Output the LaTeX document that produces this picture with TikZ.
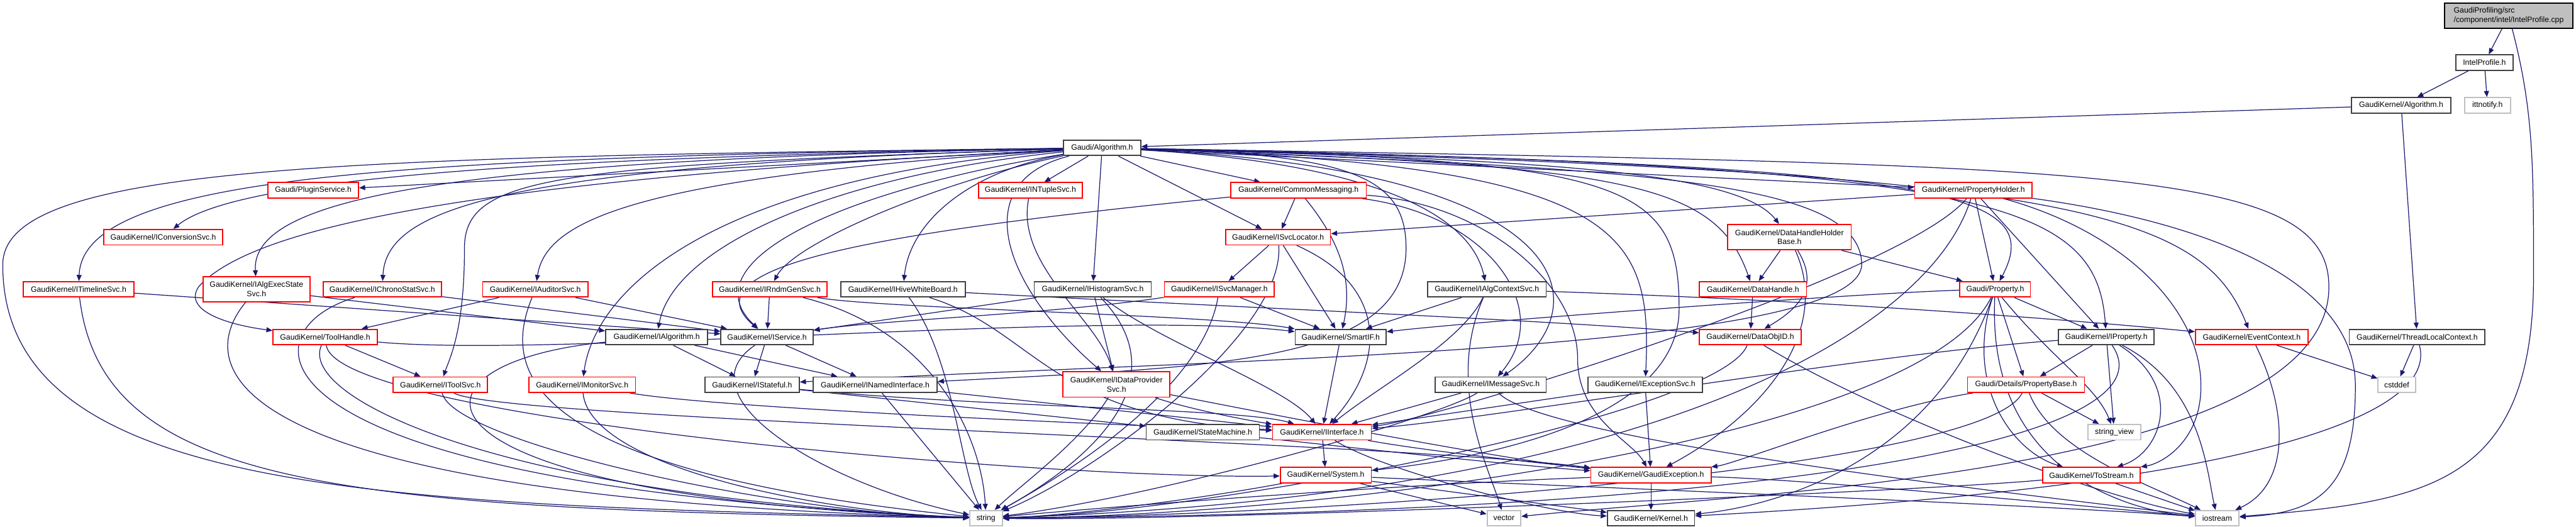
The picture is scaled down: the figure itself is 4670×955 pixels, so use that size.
\documentclass[tikz,border=0pt]{standalone}
\usepackage{fontspec}
\setmainfont{Liberation Sans}
\usetikzlibrary{arrows.meta}
\definecolor{edgec}{HTML}{191970}
\definecolor{redc}{HTML}{FF0000}
\definecolor{blk}{HTML}{404040}
\definecolor{grayb}{HTML}{BFBFBF}
\pgfdeclarelayer{edgelayer}
\pgfsetlayers{edgelayer,main}
\begin{document}
\begin{tikzpicture}[x=1pt,y=1pt,
  nd/.style={draw, rectangle, fill=white, line width=2pt, inner sep=0pt, font=\fontsize{14}{17}\selectfont, text=black, minimum height=28pt},
  rn/.style={nd, draw=redc},
  bn/.style={nd, draw=blk},
  gn/.style={nd, draw=grayb},
  e/.style={draw=edgec, line width=1.4pt, -{Triangle[length=11pt,width=9pt]}},
]
\useasboundingbox (0,0) rectangle (4670,-955);
% nodes
\node[bn, fill=grayb, draw=black, minimum width=232pt, minimum height=45pt, align=left] (cpp) at (4548,-28.5) {GaudiProfiling/src\\/component/intel/IntelProfile.cpp};
\node[bn, minimum width=104pt] (iph) at (4504,-113.5) {IntelProfile.h};
\node[bn, minimum width=180pt] (gkalg) at (4353,-191) {GaudiKernel/Algorithm.h};
\node[gn, minimum width=83pt] (itt) at (4509.5,-191) {ittnotify.h};
\node[bn, minimum width=140pt] (galg) at (1998,-268) {Gaudi/Algorithm.h};
\node[rn, minimum width=164pt] (plugin) at (568,-345) {Gaudi/PluginService.h};
\node[rn, minimum width=188pt] (ntuple) at (1868,-345) {GaudiKernel/INTupleSvc.h};
\node[rn, minimum width=246pt] (commsg) at (2354,-345) {GaudiKernel/CommonMessaging.h};
\node[rn, minimum width=213pt] (propholder) at (3577.5,-345) {GaudiKernel/PropertyHolder.h};
\node[rn, minimum width=216pt] (iconv) at (296,-430) {GaudiKernel/IConversionSvc.h};
\node[rn, minimum width=190pt] (svcloc) at (2317,-430) {GaudiKernel/ISvcLocator.h};
\node[rn, minimum width=224pt, minimum height=46pt, align=center] (dhhb) at (3244,-430) {GaudiKernel/DataHandleHolder\\Base.h};
\node[rn, minimum width=201pt] (timeline) at (142.5,-524.5) {GaudiKernel/ITimelineSvc.h};
\node[rn, minimum width=194pt, minimum height=45pt, align=center] (execstate) at (465,-524.5) {GaudiKernel/IAlgExecState\\Svc.h};
\node[rn, minimum width=214pt] (chrono) at (693,-524.5) {GaudiKernel/IChronoStatSvc.h};
\node[rn, minimum width=191pt] (auditor) at (970.5,-524.5) {GaudiKernel/IAuditorSvc.h};
\node[rn, minimum width=207pt] (rndm) at (1395.5,-524.5) {GaudiKernel/IRndmGenSvc.h};
\node[bn, minimum width=226pt] (hive) at (1637,-524.5) {GaudiKernel/IHiveWhiteBoard.h};
\node[bn, minimum width=212pt] (histo) at (1981,-524.5) {GaudiKernel/IHistogramSvc.h};
\node[rn, minimum width=199pt] (svcmgr) at (2210.5,-524.5) {GaudiKernel/ISvcManager.h};
\node[bn, minimum width=215pt] (algctx) at (2695.5,-524.5) {GaudiKernel/IAlgContextSvc.h};
\node[rn, minimum width=194pt] (dhandle) at (3178,-524.5) {GaudiKernel/DataHandle.h};
\node[rn, minimum width=128pt] (prop) at (3617,-524.5) {Gaudi/Property.h};
\node[rn, minimum width=189pt] (toolhandle) at (589.5,-611) {GaudiKernel/ToolHandle.h};
\node[bn, minimum width=185pt] (ialg) at (1190.5,-611) {GaudiKernel/IAlgorithm.h};
\node[bn, minimum width=167pt] (isvc) at (1390.5,-611) {GaudiKernel/IService.h};
\node[bn, minimum width=165pt] (smartif) at (2430.5,-611) {GaudiKernel/SmartIF.h};
\node[rn, minimum width=184pt] (dobjid) at (3173,-611) {GaudiKernel/DataObjID.h};
\node[bn, minimum width=173pt] (iprop) at (3818.5,-611) {GaudiKernel/IProperty.h};
\node[rn, minimum width=204pt] (evctx) at (4082,-611) {GaudiKernel/EventContext.h};
\node[bn, minimum width=246pt] (tlc) at (4382,-611) {GaudiKernel/ThreadLocalContext.h};
\node[rn, minimum width=171pt] (itoolsvc) at (798.5,-697.5) {GaudiKernel/IToolSvc.h};
\node[rn, minimum width=193pt] (imon) at (1055.5,-697.5) {GaudiKernel/IMonitorSvc.h};
\node[bn, minimum width=171pt] (istateful) at (1363.5,-697.5) {GaudiKernel/IStateful.h};
\node[bn, minimum width=225pt] (inamed) at (1586.5,-697.5) {GaudiKernel/INamedInterface.h};
\node[rn, minimum width=194pt, minimum height=46pt, align=center] (idp) at (2024,-697) {GaudiKernel/IDataProvider\\Svc.h};
\node[bn, minimum width=201pt] (imsg) at (2702.5,-697.5) {GaudiKernel/IMessageSvc.h};
\node[bn, minimum width=207pt] (iexc) at (2982.5,-697.5) {GaudiKernel/IExceptionSvc.h};
\node[rn, minimum width=212pt] (propbase) at (3673,-697.5) {Gaudi/Details/PropertyBase.h};
\node[gn, minimum width=68pt] (cstddef) at (4345,-697.5) {cstddef};
\node[bn, minimum width=205pt] (statemachine) at (2180.5,-783.5) {GaudiKernel/StateMachine.h};
\node[rn, minimum width=179pt] (iinterface) at (2396.5,-783.5) {GaudiKernel/IInterface.h};
\node[gn, minimum width=96pt] (strview) at (3833,-783.5) {string\_view};
\node[rn, minimum width=165pt] (system) at (2403.5,-861.5) {GaudiKernel/System.h};
\node[rn, minimum width=218pt] (gexc) at (2993,-861.5) {GaudiKernel/GaudiException.h};
\node[rn, minimum width=177pt] (tostream) at (3791.5,-861.5) {GaudiKernel/ToStream.h};
\node[gn, minimum width=59pt] (string) at (1787.5,-939.5) {string};
\node[gn, minimum width=61pt] (vector) at (2726.5,-939.5) {vector};
\node[bn, minimum width=158pt] (kernel) at (2993,-939.5) {GaudiKernel/Kernel.h};
\node[gn, minimum width=79pt] (iostream) at (4019.5,-939.5) {iostream};
\begin{pgfonlayer}{edgelayer}
% top chain
\draw[e] (cpp) -- (iph);
\draw[e] (cpp) .. controls (4593,-200) and (4593,-300) .. (4593,-500) .. controls (4593,-880) and (4400,-910) .. (iostream);
\draw[e] (iph) -- (gkalg);
\draw[e] (iph) -- (itt);
\draw[e] (gkalg) -- (galg);
\draw[e] (gkalg) -- (tlc);
% Gaudi/Algorithm.h
\draw[e] (galg) -- (plugin);
\draw[e] (galg) .. controls (1000,-285) and (430,-320) .. (iconv);
\draw[e] (galg) .. controls (700,-285) and (150,-320) .. (timeline);
\draw[e] (galg) .. controls (800,-290) and (455,-360) .. (execstate);
\draw[e] (galg) .. controls (800,-328) and (450,-420) .. (360,-520) .. controls (330,-565) and (420,-590) .. (toolhandle);
\draw[e] (galg) .. controls (900,-300) and (700,-380) .. (chrono);
\draw[e] (galg) .. controls (1000,-300) and (842,-320) .. (842,-450) .. controls (842,-600) and (815,-650) .. (itoolsvc);
\draw[e] (galg) .. controls (1150,-320) and (990,-400) .. (auditor);
\draw[e] (galg) .. controls (1300,-320) and (1080,-520) .. (imon);
\draw[e] (galg) .. controls (1500,-320) and (1220,-450) .. (ialg);
\draw[e] (galg) .. controls (1500,-350) and (1250,-480) .. (isvc);
\draw[e] (galg) .. controls (1700,-330) and (1440,-440) .. (rndm);
\draw[e] (galg) .. controls (1760,-310) and (1650,-400) .. (hive);
\draw[e] (galg) -- (ntuple);
\draw[e] (galg) .. controls (1750,-330) and (1820,-520) .. (idp);
\draw[e] (galg) -- (histo);
\draw[e] (galg) -- (svcloc);
\draw[e] (galg) -- (commsg);
\draw[e] (galg) -- (propholder);
\draw[e] (galg) .. controls (2800,-290) and (3150,-310) .. (dhhb);
\draw[e] (galg) .. controls (2400,-290) and (2660,-360) .. (algctx);
\draw[e] (galg) .. controls (2880,-310) and (2900,-560) .. (imsg);
\draw[e] (galg) .. controls (2950,-300) and (2995,-420) .. (iexc);
\draw[e] (galg) .. controls (2950,-290) and (3044,-330) .. (3044,-560) .. controls (3044,-760) and (2700,-830) .. (system);
\draw[e] (galg) .. controls (2950,-300) and (3110,-330) .. (dhandle);
\draw[e] (galg) .. controls (3000,-305) and (3375,-330) .. (3375,-480) .. controls (3370,-640) and (2200,-650) .. (istateful);
\draw[e] (galg) .. controls (2450,-280) and (2549,-320) .. (2549,-450) .. controls (2549,-660) and (2200,-665) .. (inamed);
\draw[e] (galg) .. controls (3500,-300) and (3715,-340) .. (prop);
\draw[e] (galg) .. controls (3600,-300) and (3800,-360) .. (iprop);
\draw[e] (galg) .. controls (3750,-310) and (3990,-380) .. (evctx);
\draw[e] (galg) .. controls (3800,-300) and (4222,-300) .. (4222,-520) .. controls (4222,-860) and (3150,-895) .. (vector);
\draw[e] (galg) .. controls (600,-285) and (5,-300) .. (5,-480) .. controls (5,-900) and (700,-915) .. (string);
% CommonMessaging
\draw[e] (commsg) -- (svcloc);
\draw[e] (commsg) .. controls (1600,-420) and (1240,-480) .. (isvc);
\draw[e] (commsg) .. controls (2440,-450) and (2450,-520) .. (smartif);
\draw[e] (commsg) .. controls (2700,-390) and (2820,-560) .. (imsg);
\draw[e] (commsg) .. controls (2700,-370) and (2860,-520) .. (2860,-650) .. controls (2860,-760) and (2960,-800) .. (gexc);
% PropertyHolder
\draw[e] (propholder) -- (svcloc);
\draw[e] (propholder) -- (prop);
\draw[e] (propholder) -- (iprop);
\draw[e] (propholder) .. controls (3450,-500) and (2600,-760) .. (iinterface);
\draw[e] (propholder) .. controls (3500,-600) and (3000,-900) .. (string);
\draw[e] (propholder) .. controls (3980,-400) and (4270,-500) .. (4270,-700) .. controls (4270,-890) and (4200,-930) .. (iostream);
\draw[e] (propholder) .. controls (3850,-420) and (3990,-560) .. (3990,-700) .. controls (3990,-800) and (3920,-840) .. (tostream);
% ISvcLocator
\draw[e] (svcloc) -- (svcmgr);
\draw[e] (svcloc) .. controls (2330,-600) and (2000,-850) .. (string);
\draw[e] (svcloc) -- (smartif);
\draw[e] (svcloc) .. controls (2520,-520) and (2510,-660) .. (iinterface);
% ISvcManager
\draw[e] (svcmgr) .. controls (1900,-570) and (1600,-580) .. (isvc);
\draw[e] (svcmgr) .. controls (2180,-700) and (1950,-850) .. (string);
\draw[e] (svcmgr) -- (smartif);
% DataHandleHolderBase
\draw[e] (dhhb) -- (dhandle);
\draw[e] (dhhb) .. controls (3300,-520) and (3260,-560) .. (dobjid);
\draw[e] (dhhb) -- (prop);
\draw[e] (dhhb) .. controls (3320,-600) and (3200,-750) .. (gexc);
% left row
\draw[e] (timeline) -- (isvc);
\draw[e] (timeline) .. controls (185,-880) and (600,-925) .. (string);
\draw[e] (execstate) -- (ialg);
\draw[e] (execstate) .. controls (360,-650) and (340,-900) .. (string);
\draw[e] (chrono) -- (isvc);
\draw[e] (chrono) .. controls (440,-600) and (420,-880) .. (string);
\draw[e] (auditor) -- (isvc);
\draw[e] (auditor) -- (toolhandle);
\draw[e] (auditor) .. controls (920,-650) and (900,-850) .. (string);
\draw[e] (toolhandle) -- (itoolsvc);
\draw[e] (toolhandle) .. controls (540,-720) and (900,-900) .. (string);
\draw[e] (toolhandle) .. controls (1000,-650) and (2000,-560) .. (smartif);
\draw[e] (toolhandle) .. controls (610,-760) and (1900,-870) .. (system);
\draw[e] (itoolsvc) .. controls (820,-800) and (1400,-930) .. (string);
\draw[e] (itoolsvc) .. controls (900,-760) and (2500,-800) .. (gexc);
\draw[e] (imon) .. controls (1070,-850) and (1500,-930) .. (string);
\draw[e] (imon) .. controls (1300,-740) and (2000,-770) .. (iinterface);
\draw[e] (ialg) -- (istateful);
\draw[e] (ialg) -- (inamed);
\draw[e] (ialg) .. controls (700,-660) and (700,-900) .. (string);
\draw[e] (isvc) -- (istateful);
\draw[e] (isvc) -- (inamed);
\draw[e] (isvc) .. controls (1230,-720) and (1500,-880) .. (string);
\draw[e] (istateful) -- (statemachine);
\draw[e] (istateful) .. controls (1800,-740) and (2250,-740) .. (iinterface);
\draw[e] (inamed) -- (iinterface);
\draw[e] (inamed) -- (string);
\draw[e] (rndm) -- (isvc);
\draw[e] (rndm) .. controls (1600,-560) and (2200,-570) .. (smartif);
\draw[e] (rndm) .. controls (1700,-600) and (1780,-800) .. (string);
\draw[e] (hive) .. controls (1730,-650) and (1740,-850) .. (string);
\draw[e] (hive) .. controls (1880,-600) and (1900,-760) .. (iinterface);
\draw[e] (hive) .. controls (2300,-560) and (2800,-580) .. (dobjid);
\draw[e] (ntuple) .. controls (1840,-480) and (1990,-580) .. (idp);
\draw[e] (histo) -- (idp);
\draw[e] (histo) .. controls (2150,-700) and (1950,-850) .. (string);
\draw[e] (histo) -- (isvc);
\draw[e] (histo) .. controls (2100,-620) and (2330,-700) .. (iinterface);
\draw[e] (idp) .. controls (1960,-800) and (1850,-880) .. (string);
\draw[e] (idp) .. controls (2150,-740) and (2250,-760) .. (iinterface);
\draw[e] (idp) .. controls (2250,-740) and (2700,-830) .. (gexc);
% middle
\draw[e] (algctx) -- (smartif);
\draw[e] (algctx) .. controls (2650,-620) and (2500,-700) .. (iinterface);
\draw[e] (algctx) .. controls (2620,-700) and (2700,-850) .. (vector);
\draw[e] (algctx) .. controls (3300,-545) and (3700,-575) .. (evctx);
\draw[e] (smartif) -- (iinterface);
\draw[e] (imsg) -- (iinterface);
\draw[e] (imsg) .. controls (2600,-760) and (2100,-900) .. (string);
\draw[e] (imsg) .. controls (2800,-800) and (3700,-900) .. (iostream);
\draw[e] (iexc) -- (iinterface);
\draw[e] (iexc) -- (gexc);
\draw[e] (dhandle) -- (dobjid);
\draw[e] (dobjid) .. controls (3120,-750) and (2200,-930) .. (string);
\draw[e] (dobjid) .. controls (3400,-750) and (3800,-900) .. (iostream);
\draw[e] (iinterface) -- (system);
\draw[e] (iinterface) .. controls (2500,-850) and (2800,-930) .. (kernel);
\draw[e] (iinterface) .. controls (2600,-820) and (2800,-840) .. (gexc);
\draw[e] (system) -- (kernel);
\draw[e] (system) .. controls (2200,-900) and (1950,-935) .. (string);
\draw[e] (system) -- (vector);
\draw[e] (system) .. controls (2800,-880) and (3700,-915) .. (iostream);
\draw[e] (gexc) -- (kernel);
\draw[e] (gexc) .. controls (2500,-880) and (2000,-920) .. (string);
\draw[e] (gexc) .. controls (3300,-870) and (3800,-920) .. (iostream);
\draw[e] (statemachine) .. controls (2350,-800) and (2700,-840) .. (gexc);
% properties
\draw[e] (iprop) -- (propbase);
\draw[e] (iprop) -- (strview);
\draw[e] (iprop) .. controls (3400,-640) and (2700,-760) .. (iinterface);
\draw[e] (iprop) .. controls (3950,-800) and (3200,-930) .. (string);
\draw[e] (iprop) .. controls (3990,-700) and (4000,-850) .. (iostream);
\draw[e] (iprop) .. controls (3960,-700) and (3920,-820) .. (tostream);
\draw[e] (propbase) -- (strview);
\draw[e] (propbase) .. controls (3600,-850) and (2400,-935) .. (string);
\draw[e] (propbase) .. controls (3720,-820) and (3900,-880) .. (iostream);
\draw[e] (propbase) .. controls (3400,-740) and (3150,-840) .. (gexc);
\draw[e] (prop) -- (propbase);
\draw[e] (prop) -- (iprop);
\draw[e] (prop) .. controls (3720,-650) and (3800,-700) .. (strview);
\draw[e] (prop) .. controls (3560,-700) and (3650,-820) .. (tostream);
\draw[e] (prop) .. controls (3400,-530) and (2700,-580) .. (smartif);
\draw[e] (prop) .. controls (3480,-800) and (2400,-935) .. (string);
\draw[e] (prop) .. controls (3500,-850) and (3200,-920) .. (kernel);
\draw[e] (prop) .. controls (3600,-880) and (3900,-930) .. (iostream);
\draw[e] (tostream) -- (iostream);
\draw[e] (tostream) .. controls (3500,-890) and (2200,-945) .. (string);
\draw[e] (evctx) -- (cstddef);
\draw[e] (evctx) .. controls (4150,-750) and (4150,-880) .. (iostream);
\draw[e] (tlc) -- (cstddef);
\draw[e] (tlc) .. controls (4420,-750) and (4100,-880) .. (kernel);
\end{pgfonlayer}
\end{tikzpicture}
\end{document}
